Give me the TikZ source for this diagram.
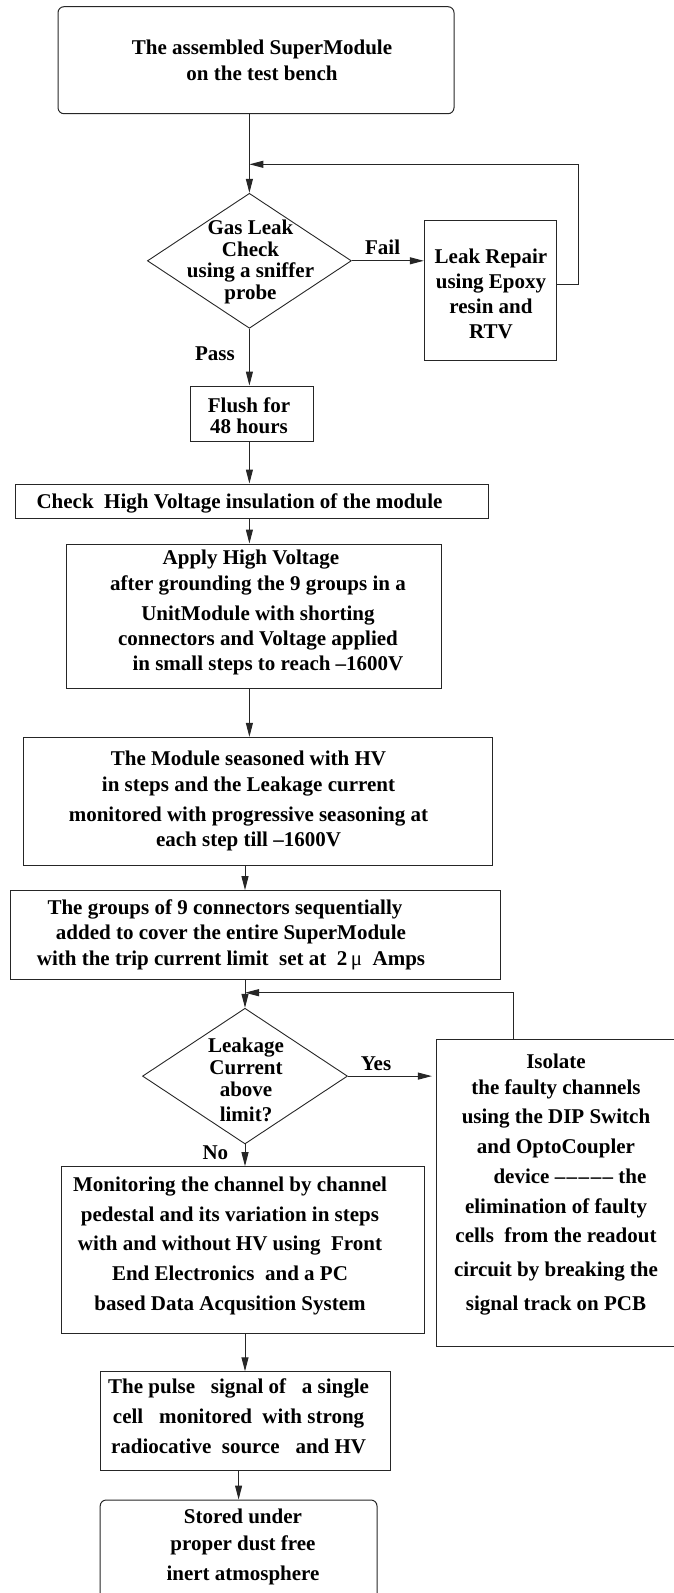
\documentclass[tikz,border=0pt]{standalone}
\usepackage{fontspec}
\setmainfont{Liberation Serif}
\usetikzlibrary{arrows.meta, shapes.geometric, positioning}

\begin{document}
\begin{tikzpicture}[x=1pt,y=-1pt,>={Triangle[length=14pt,width=7pt]},
  box/.style={draw=black!85,line width=1pt,inner sep=0pt},
  dec/.style={draw=black!85,line width=0.9pt,diamond,inner sep=0pt,
              minimum width=204pt,minimum height=135pt},
  txt/.style={align=center,inner sep=0pt,font=\bfseries\fontsize{21}{#1}\selectfont},
  txt/.default=26,
  arr/.style={->,line width=1pt,draw=black!85}]
  \useasboundingbox (0,0) rectangle (674,1593);
  % module on the bench
  \node[box,rounded corners=6pt,minimum width=396pt,minimum height=107pt] (start) at (256,60.2) {};
  \node[txt] (tstart) at (262,60) {The assembled SuperModule\\on the test bench};
  % gas leak check and repair
  \node[dec] (leak) at (249.4,260.8) {};
  \node[txt=21.5] (tleak) at (250.5,262) {Gas Leak\\Check\\using a sniffer\\probe};
  \node[box,minimum width=132.4pt,minimum height=140.7pt] (repair) at (490.5,290.35) {};
  \node[txt=25] (trepair) at (491,294.2) {Leak Repair\\using Epoxy\\resin and\\RTV};
  \node[txt] (lfail) at (382.6,247.3) {Fail};
  \node[txt] (lpass) at (215,354) {Pass};
  \coordinate (fb1) at (249.4,164.3);
  % flushing and HV steps
  \node[box,minimum width=123.4pt,minimum height=55.3pt] (flush) at (251.7,413.7) {};
  \node[txt=21] (tflush) at (249,415.5) {Flush for\\48 hours};
  \node[box,minimum width=473.3pt,minimum height=34.3pt] (chk) at (252.2,501.2) {};
  \node[txt] (tchk) at (239.5,503.3) {Check\ \ High Voltage insulation of the module};
  \node[box,minimum width=374.9pt,minimum height=144.3pt] (apply) at (254,616.2) {};
  \node[txt=25] (tapply) at (258,612) {Apply High Voltage\hspace*{14pt}\\[1pt]after grounding the 9 groups in a\\[5pt]UnitModule with shorting\\connectors and Voltage applied\\\hspace*{20pt}in small steps to reach \textendash1600V};
  \node[box,minimum width=468.7pt,minimum height=127.7pt] (season) at (258,801.2) {};
  \node[txt=25] (tseason) at (248.5,800.8) {The Module seasoned with HV\\[1.7pt]in steps and the Leakage current\\[5pt]monitored with progressive seasoning at\\each step till \textendash1600V};
  \node[box,minimum width=490.6pt,minimum height=89.3pt] (groups) at (255.6,935.3) {};
  \node[txt=25.5] (tgroups) at (231,934.7) {The groups of 9 connectors sequentially\hspace*{12pt}\\added to cover the entire SuperModule\\with the trip current limit\ \ set at\ \ 2\,{\mdseries μ}\ \ Amps};
  % leakage current check and isolation
  \node[dec,minimum width=205pt,minimum height=135.7pt] (lkg) at (245,1076.1) {};
  \node[txt=22] (tlkg) at (246,1080.3) {Leakage\\Current\\above\\[3pt]limit?};
  \node[box,minimum width=253.6pt,minimum height=307.4pt] (iso) at (563.2,1193) {};
  \node[txt=30] (tiso) at (556,1184.2) {Isolate\\[-4pt]the faulty channels\\[-0.7pt]using the DIP Switch\\and OptoCoupler\\\hspace*{28pt}device \textendash\kern1.5pt\textendash\kern1.5pt\textendash\kern1.5pt\textendash\kern1.5pt\textendash{} the\\elimination of faulty\\[-0.6pt]cells\ \ from the readout\\[4pt]circuit by breaking the\\[3.3pt]signal track on PCB};
  \node[txt] (lyes) at (376,1063.3) {Yes};
  \node[txt] (lno) at (215.4,1152.3) {No};
  \coordinate (fb2) at (245,992.7);
  \coordinate (fb2r) at (513.8,992.7);
  % monitoring and storage
  \node[box,minimum width=362.8pt,minimum height=166.6pt] (mon) at (242.9,1250) {};
  \node[txt=29.6] (tmon) at (230,1245.8) {Monitoring the channel by channel\\pedestal and its variation in steps\\with and without HV using\ \ Front\\End Electronics\ \ and a PC\\based Data Acqusition System};
  \node[box,minimum width=289.8pt,minimum height=98.3pt] (pulse) at (245.1,1420.9) {};
  \node[txt=29.7] (tpulse) at (238.6,1416.4) {The pulse\ \ \ signal of\ \ \ a single\\cell\ \ \ monitored\ \ with strong\\radiocative\ \ source\ \ \ and HV};
  \node[box,rounded corners=6pt,minimum width=276.8pt,minimum height=110pt] (stored) at (238.6,1555) {};
  \node[txt=28.5] (tstored) at (243,1546.7) {Stored under\\[-1.5pt]proper dust free\\[1.5pt]inert atmosphere};
  % connectors
  \draw[arr] (start.south -| leak.north) -- (leak.north);
  \draw[arr] ([yshift=6pt]repair.east) -- ++(21.6,0) |- (fb1);
  \draw[arr] (leak.east) -- (leak.east -| repair.west);
  \draw[arr] (leak.south) -- (leak.south |- flush.north);
  \draw[arr] (leak.south |- flush.south) -- (leak.south |- chk.north);
  \draw[arr] (leak.south |- chk.south) -- (leak.south |- apply.north);
  \draw[arr] (leak.south |- apply.south) -- (leak.south |- season.north);
  \draw[arr] (lkg.north |- season.south) -- (lkg.north |- groups.north);
  \draw[arr] (lkg.north |- groups.south) -- (lkg.north);
  \draw[arr] (iso.north -| fb2r) |- (fb2);
  \draw[arr] (lkg.east) -- ([xshift=-4pt]lkg.east -| iso.west);
  \draw[arr] (lkg.south) -- (lkg.south |- mon.north);
  \draw[arr] (lkg.south |- mon.south) -- (lkg.south |- pulse.north);
  \draw[arr] (pulse.south -| stored.north) -- (stored.north);
\end{tikzpicture}
\end{document}
